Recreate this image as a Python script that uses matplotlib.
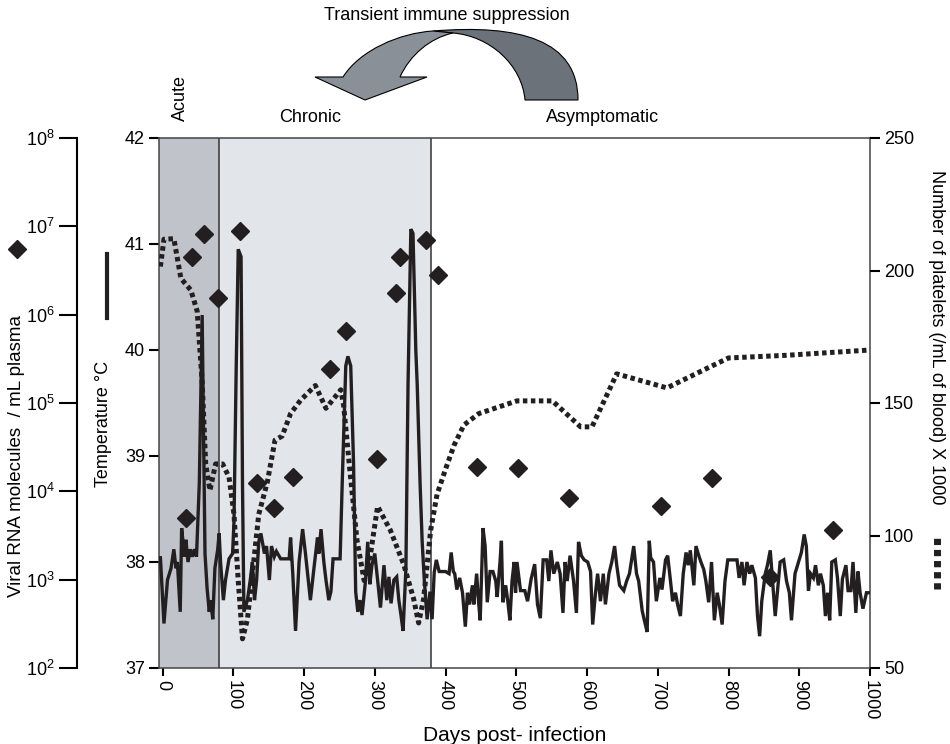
import numpy as np
import matplotlib.pyplot as plt
from matplotlib.path import Path
from matplotlib.patches import PathPatch
from matplotlib.lines import Line2D

plt.rcParams['font.family'] = ['Liberation Sans', 'DejaVu Sans']
plt.rcParams['mathtext.fontset'] = 'custom'
plt.rcParams['mathtext.rm'] = 'Liberation Sans'

INK = '#231f20'

# body temperature (solid line), days post-infection / deg C
temp_days = [-3, 2, 7, 12, 16, 19, 21, 25, 27, 31, 33, 36, 39, 42, 45, 48, 52, 56, 60, 63,
             66, 68, 71, 74, 78, 80, 82, 86, 89, 94, 99, 101, 104, 107, 111, 113, 115, 120, 124, 127,
             130, 133, 136, 139, 144, 147, 151, 154, 158, 161, 167, 172, 179, 181, 184, 188, 193, 198, 202, 206,
             209, 214, 219, 221, 224, 228, 231, 235, 238, 241, 246, 251, 254, 259, 262, 266, 270, 273, 276, 279,
             282, 287, 290, 293, 296, 300, 304, 308, 313, 317, 320, 323, 327, 331, 334, 337, 340, 344, 347, 351,
             354, 358, 360, 364, 367, 370, 374, 378, 381, 384, 387, 391, 400, 405, 408, 411, 413, 416, 420, 424,
             428, 431, 434, 438, 440, 444, 447, 449, 453, 456, 459, 463, 467, 471, 473, 477, 479, 481, 485, 488,
             491, 494, 497, 499, 501, 506, 512, 516, 521, 526, 530, 534, 538, 543, 546, 549, 553, 558, 562, 566,
             569, 572, 576, 581, 585, 588, 592, 596, 601, 605, 608, 612, 615, 619, 623, 626, 631, 635, 639, 642,
             646, 652, 656, 660, 666, 670, 673, 678, 681, 685, 688, 690, 694, 698, 703, 706, 711, 714, 718, 721,
             725, 728, 732, 736, 740, 743, 746, 751, 754, 758, 761, 765, 768, 772, 776, 780, 784, 787, 791, 795,
             799, 805, 812, 815, 819, 822, 826, 830, 833, 838, 841, 844, 847, 852, 855, 859, 862, 866, 869, 873,
             878, 882, 886, 889, 894, 899, 903, 907, 910, 913, 916, 920, 923, 927, 930, 934, 937, 940, 943, 946,
             951, 954, 958, 961, 966, 969, 973, 976, 980, 983, 986, 990, 995, 1000]
temp_vals = [38.04, 37.42, 37.83, 37.94, 38.12, 37.94, 38.00, 37.53, 38.32, 38.05, 38.21, 38.00, 38.12, 38.05, 38.12, 38.05, 38.75, 40.33, 38.08, 37.75,
             37.53, 37.64, 37.46, 37.94, 38.12, 38.27, 38.00, 37.64, 37.83, 38.03, 38.08, 38.38, 39.78, 40.95, 40.88, 38.75, 37.53, 37.64, 37.83, 38.00,
             37.64, 37.83, 38.19, 38.27, 38.08, 38.15, 37.83, 38.15, 38.05, 38.10, 38.03, 38.03, 38.03, 38.23, 37.90, 37.35, 38.00, 38.31, 38.08, 37.83,
             37.64, 37.94, 38.23, 38.08, 38.31, 38.00, 37.83, 37.64, 37.72, 38.03, 38.03, 38.03, 38.75, 39.85, 39.94, 39.85, 38.93, 37.72, 37.53, 37.64,
             37.50, 37.83, 38.19, 37.79, 37.97, 38.08, 37.83, 37.57, 37.97, 37.64, 37.86, 37.61, 37.83, 37.86, 37.64, 37.50, 37.35, 37.94, 39.67, 41.14,
             41.10, 40.00, 39.67, 38.75, 38.19, 37.83, 37.46, 37.72, 37.46, 37.90, 38.02, 37.91, 37.91, 37.89, 38.09, 37.91, 37.89, 37.74, 37.85, 37.71,
             37.39, 37.71, 37.60, 37.78, 37.60, 37.89, 37.60, 37.45, 38.32, 38.15, 37.62, 37.91, 37.91, 37.82, 37.67, 38.00, 38.20, 37.62, 37.78, 37.63,
             37.45, 37.82, 38.00, 37.71, 38.00, 37.73, 37.73, 37.63, 37.84, 37.98, 37.60, 37.47, 38.02, 38.02, 37.82, 38.11, 37.89, 38.00, 37.89, 37.52,
             38.00, 37.82, 38.06, 37.82, 37.52, 38.19, 38.06, 38.02, 38.00, 37.91, 37.41, 37.71, 37.89, 37.63, 37.89, 37.60, 37.89, 38.00, 38.15, 37.97,
             37.78, 37.73, 37.82, 37.89, 38.15, 37.89, 37.82, 37.54, 37.45, 37.34, 38.20, 38.04, 38.00, 37.63, 37.85, 37.74, 38.02, 38.06, 37.82, 37.63,
             37.71, 37.60, 37.49, 37.89, 38.09, 37.97, 38.11, 37.78, 38.15, 38.06, 38.00, 37.93, 37.82, 37.62, 38.00, 37.45, 37.71, 37.60, 37.41, 37.82,
             38.02, 38.02, 38.02, 37.85, 38.00, 37.78, 38.00, 37.89, 37.97, 37.85, 37.49, 37.30, 37.63, 37.89, 37.97, 38.11, 37.85, 37.49, 37.71, 38.00,
             38.02, 37.82, 37.71, 37.45, 37.89, 38.00, 38.09, 38.26, 38.15, 37.73, 37.89, 37.85, 37.97, 37.78, 37.89, 37.78, 37.49, 37.71, 37.45, 38.00,
             38.02, 37.85, 37.49, 37.84, 37.97, 37.73, 37.73, 38.00, 37.52, 37.91, 37.71, 37.56, 37.71, 37.71]

# platelets (dotted line), x1000 per mL of blood
plt_days = [-3, 2, 16, 26, 40, 49, 56, 61, 67, 75, 85, 94, 101, 107, 113, 120, 129, 136, 148, 159,
            169, 181, 195, 216, 231, 252, 256, 265, 275, 285, 294, 304, 322, 341, 355, 362, 369, 379, 388, 400,
            412, 426, 447, 501, 551, 591, 607, 642, 713, 769, 800, 882, 1000]
plt_vals = [201.5, 211.8, 212, 197, 192.6, 184.6, 158, 127, 117, 127, 127, 122, 108, 83, 61, 68.4, 90.4, 108, 120, 136,
            137.5, 146, 151, 156.6, 148, 155, 149, 124, 98, 83, 93, 111, 102, 89, 76, 67, 76, 102, 115.5, 125,
            134, 141.7, 146, 150.8, 150.8, 141, 141, 161, 155.7, 163, 167, 168, 170]

# viral RNA (diamonds), log10 copies / mL plasma
rna_days = [33, 41, 59, 78, 110, 133, 158, 185, 237, 260, 303, 330, 335, 373, 389,
            444, 503, 574, 705, 776, 859, 947]
rna_log10 = [3.70, 6.65, 6.91, 6.19, 6.95, 4.10, 3.81, 4.16, 5.38, 5.82, 4.37, 6.24, 6.65, 6.84, 6.45,
             4.28, 4.26, 3.93, 3.83, 4.15, 3.03, 3.56]

phases = [('Acute', -5, 80, '#c0c3ca'), ('Chronic', 80, 379, '#e2e5ea')]

W, H = 950, 744
fig = plt.figure(figsize=(W / 100, H / 100), dpi=100)
L, R, T, B = 159, 870, 138, 668
ax = fig.add_axes([L / W, 1 - B / H, (R - L) / W, (B - T) / H])


def fx(px):
    return px / W


def fy(py):
    return 1 - py / H


# phase shading
for name, a, b, col in phases:
    ax.axvspan(a, b, color=col, lw=0, zorder=0)
for d in [80, 379]:
    ax.axvline(d, color='#333333', lw=1.1, zorder=1)

ax.plot(temp_days, temp_vals, color=INK, lw=2.4, solid_joinstyle='miter', zorder=3)
ax.set_xlim(-5, 1000)
ax.set_ylim(37, 42)
ax.set_xticks(range(0, 1001, 100))
ax.set_yticks(range(37, 43))
ax.tick_params(axis='x', direction='out', length=6, width=1.5, labelsize=13, rotation=-90, pad=3)
ax.tick_params(axis='y', direction='out', length=7, width=1.5, labelsize=13, pad=3)
for s in ax.spines.values():
    s.set_color('#444444')
    s.set_linewidth(1.1)
ax.set_xlabel('Days post- infection', fontsize=15, labelpad=4)

# platelets on the right
ax_p = ax.twinx()
ax_p.plot(plt_days, plt_vals, color=INK, lw=3.6, linestyle=(0, (0.9, 0.7)),
          dash_capstyle='butt', zorder=3)
ax_p.set_ylim(50, 250)
ax_p.set_yticks(range(50, 251, 50))
ax_p.tick_params(axis='y', direction='out', length=7, width=1.5, labelsize=13, pad=3)
for s in ax_p.spines.values():
    s.set_visible(False)

# viral RNA on a detached left axis
ax_v = ax.twinx()
ax_v.set_yscale('log')
ax_v.set_ylim(1e2, 1e8)
ax_v.yaxis.tick_left()
for k, s in ax_v.spines.items():
    s.set_visible(k == 'left')
ax_v.spines['left'].set_position(('axes', (77 - L) / (R - L)))
ax_v.spines['left'].set_linewidth(1.5)
ax_v.spines['left'].set_color('black')
ax_v.set_yticks([10.0 ** k for k in range(2, 9)])
ax_v.set_yticklabels([r'$\mathregular{10^{%d}}$' % k for k in range(2, 9)])
ax_v.yaxis.set_minor_locator(plt.NullLocator())
ax_v.tick_params(axis='y', direction='out', length=13, width=1.5, labelsize=13, pad=3)
ax_v.plot(rna_days, [10 ** v for v in rna_log10], 'D', color=INK, ms=9.5, zorder=5)

# axis titles with their key marks
fig.text(fx(17), 0.387, 'Viral RNA molecules  / mL plasma', rotation=90,
         ha='center', va='center', fontsize=13.5)
fig.add_artist(Line2D([fx(17)], [0.665], marker='D', color=INK, ms=9.5))
fig.text(fx(104), 0.430, 'Temperature \u00b0C', rotation=90, ha='center', va='center', fontsize=13)
fig.add_artist(Line2D([fx(107), fx(107)], [0.572, 0.658], color=INK, lw=3))
fig.text(fx(937), 0.547, 'Number of platelets (/mL of blood) X 1000', rotation=-90,
         ha='center', va='center', fontsize=13)
fig.add_artist(Line2D([fx(937), fx(937)], [0.209, 0.277], color=INK, lw=5,
                      linestyle=(0, (0.9, 0.7)), dash_capstyle='butt'))

# phase names
fig.text(fx(180), fy(98), 'Acute', rotation=90, ha='center', va='center', fontsize=13)
fig.text(fx(310), fy(117), 'Chronic', ha='center', va='center', fontsize=13)
fig.text(fx(603), fy(117), 'Asymptomatic', ha='center', va='center', fontsize=13)

# curved arrow, drawn in pixel positions
fig.text(fx(447), fy(15), 'Transient immune suppression', ha='center', va='center', fontsize=13)
C3, MT, LT, CL = Path.CURVE4, Path.MOVETO, Path.LINETO, Path.CLOSEPOLY
dark = [((453, 33), MT), ((490, 36), C3), ((522, 65), C3), ((525, 100), C3),
        ((578, 100), LT), ((578, 40), C3), ((520, 24), C3), ((433, 31), C3),
        ((453, 33), LT), ((453, 33), CL)]
light = [((433, 31), MT), ((400, 33), C3), ((360, 50), C3), ((343, 77), C3),
         ((315, 77), LT), ((365, 100), LT), ((427, 77), LT), ((400, 77), LT),
         ((410, 55), C3), ((430, 38), C3), ((453, 33), C3), ((433, 31), LT), ((433, 31), CL)]
for pts, col in [(dark, '#6c7279'), (light, '#8a9097')]:
    verts = [(fx(p[0]), fy(p[1])) for p, c in pts]
    codes = [c for p, c in pts]
    fig.add_artist(PathPatch(Path(verts, codes), facecolor=col, edgecolor='black',
                             lw=0.8, transform=fig.transFigure))

fig.savefig('out.png', dpi=100)
